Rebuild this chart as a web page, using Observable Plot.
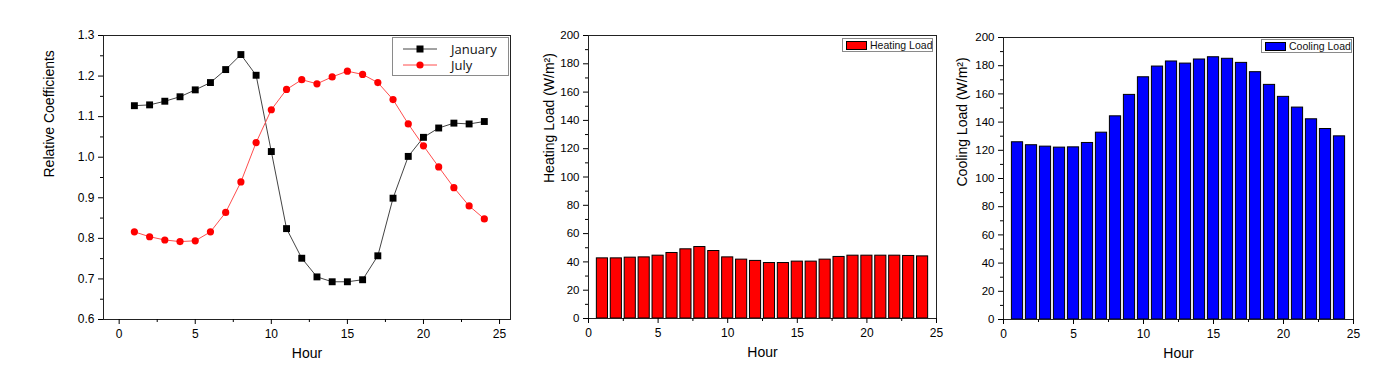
<!DOCTYPE html>
<html><head><meta charset="utf-8">
<script src="https://cdn.jsdelivr.net/npm/d3@7"></script>
<script src="https://cdn.jsdelivr.net/npm/@observablehq/plot@0.6"></script>
<style>
body{margin:0;background:#fff;width:1388px;height:370px;position:relative;overflow:hidden;font-family:"Liberation Sans",Arial,sans-serif}
.panel{position:absolute;top:0}
.legend{position:absolute;background:#fff;border:1px solid #8a8a8a;box-sizing:border-box;white-space:nowrap}
.lrow{position:absolute;left:0;display:flex;align-items:center;font-family:"Open Sans","Noto Sans",sans-serif;font-size:13px;color:#111;white-space:nowrap}
.blegend{display:flex;align-items:center;font-family:"Liberation Sans",Arial,sans-serif;font-size:10.5px;color:#111;white-space:nowrap}
.sw{flex:none;width:21px;height:9px;border:1px solid #000;margin:0 3px 0 3px;box-sizing:border-box}
</style></head><body>
<div id="p1" class="panel" style="left:0"></div>
<div id="p2" class="panel" style="left:520px"></div>
<div id="p3" class="panel" style="left:950px"></div>

<div class="legend" style="left:392px;top:37px;width:117px;height:39px">
  <div class="lrow" style="top:2px;height:17px">
    <svg width="48" height="12" style="margin-left:10px;flex:none"><line x1="0" y1="6" x2="34" y2="6" stroke="#444" stroke-width="1"/><rect x="13.5" y="2.5" width="7" height="7" fill="#000"/></svg><span>January</span>
  </div>
  <div class="lrow" style="top:18px;height:17px">
    <svg width="48" height="12" style="margin-left:10px;flex:none"><line x1="0" y1="6" x2="34" y2="6" stroke="#ff4d4d" stroke-width="1"/><circle cx="17" cy="6" r="3.6" fill="#ff0000"/></svg><span>July</span>
  </div>
</div>
<div class="legend blegend" style="left:842px;top:38px;width:91px;height:14px"><div class="sw" style="background:#ff0000"></div><span>Heating Load</span></div>
<div class="legend blegend" style="left:1261px;top:39px;width:91px;height:14px"><div class="sw" style="background:#0000ff"></div><span>Cooling Load</span></div>

<script>
const hours = [1,2,3,4,5,6,7,8,9,10,11,12,13,14,15,16,17,18,19,20,21,22,23,24];
const january = [1.127,1.129,1.138,1.149,1.166,1.184,1.216,1.253,1.202,1.014,0.824,0.751,0.705,0.693,0.693,0.698,0.757,0.899,1.002,1.049,1.072,1.084,1.082,1.088];
const july = [0.816,0.804,0.796,0.792,0.794,0.816,0.864,0.939,1.036,1.117,1.167,1.191,1.181,1.198,1.212,1.204,1.184,1.142,1.082,1.028,0.976,0.925,0.880,0.848];
const heatingLoad = [42.5,42.5,43.0,43.2,44.4,46.3,48.9,50.5,47.7,43.2,41.6,40.7,39.2,39.2,40.2,40.2,41.6,43.5,44.4,44.4,44.4,44.4,44.2,43.9];
const coolingLoad = [125.7,123.6,122.6,121.9,122.1,125.2,132.5,144.1,159.3,171.8,179.4,183.0,181.5,184.4,186.0,184.9,182.0,175.4,166.4,157.9,150.3,142.0,135.1,129.9];
const seriesNames = ["January","July"];
const xTicks = [0,5,10,15,20,25];
const xMinorTicks = [2.5,7.5,12.5,17.5,22.5];
const coefTicks = [0.6,0.7,0.8,0.9,1.0,1.1,1.2,1.3];
const coefMinorTicks = [0.65,0.75,0.85,0.95,1.05,1.15,1.25];
const loadTicks = [0,20,40,60,80,100,120,140,160,180,200];
const loadMinorTicks = [10,30,50,70,90,110,130,150,170,190];
const xLabel = "Hour";
const coefLabel = "Relative Coefficients";
const heatLabel = "Heating Load (W/m²)";
const coolLabel = "Cooling Load (W/m²)";

const janData = hours.map((h,i)=>({hour:h, value:january[i]}));
const julData = hours.map((h,i)=>({hour:h, value:july[i]}));
const heatData = hours.map((h,i)=>({hour:h, value:heatingLoad[i]}));
const coolData = hours.map((h,i)=>({hour:h, value:coolingLoad[i]}));

const noText = () => "";
function xAxes(){
  return [
    Plot.axisX({ticks: xTicks, tickSize: 5, tickPadding: 5, tickFormat: d3.format("d"), label: null, fontSize: 12}),
    Plot.axisX({ticks: xMinorTicks, tickSize: 3, tickFormat: noText, label: null}),
    Plot.text([xLabel], {frameAnchor: "bottom", dy: 38, fontSize: 14, fill: "#000"})
  ];
}

const style = {fontFamily: "'Liberation Sans', Arial, sans-serif", fontSize: "12px", color: "#000", background: "#fff", overflow: "visible"};

const p1 = Plot.plot({
  width: 520, height: 370,
  marginLeft: 103, marginRight: 10, marginTop: 35, marginBottom: 51,
  style,
  x: {domain: [-1.03, 25.72]},
  y: {domain: [0.6, 1.3]},
  marks: [
    Plot.frame({stroke: "#222"}),
    Plot.axisY({ticks: coefTicks, tickSize: 5, tickPadding: 4, tickFormat: d3.format(".1f"), label: null, fontSize: 12}),
    Plot.axisY({ticks: coefMinorTicks, tickSize: 3, tickFormat: noText, label: null}),
    ...xAxes(),
    Plot.text([coefLabel], {frameAnchor: "left", rotate: -90, dx: -54, fontSize: 14, fill: "#000"}),
    Plot.line(janData, {x: "hour", y: "value", stroke: "#444", strokeWidth: 1}),
    Plot.line(julData, {x: "hour", y: "value", stroke: "#ff4d4d", strokeWidth: 1}),
    Plot.dot(janData, {x: "hour", y: "value", symbol: "square", fill: "#000", r: 3.9}),
    Plot.dot(julData, {x: "hour", y: "value", symbol: "circle", fill: "#ff0000", r: 3.6})
  ]
});
document.getElementById("p1").append(p1);

function loadPlot(data, fill, label, opts){
  return Plot.plot({
    width: opts.width, height: 370,
    marginLeft: opts.ml, marginRight: opts.mr, marginTop: opts.mt, marginBottom: opts.mb,
    style,
    x: {domain: [0, 25]},
    y: {domain: [0, 200]},
    marks: [
      Plot.rectY(data, {x1: d => d.hour - 0.4, x2: d => d.hour + 0.4, y: "value", fill, stroke: "#000", strokeWidth: 1}),
      Plot.frame({stroke: "#222"}),
      Plot.axisY({ticks: loadTicks, tickSize: 5, tickPadding: 4, tickFormat: d3.format("d"), label: null, fontSize: 11.5}),
      Plot.axisY({ticks: loadMinorTicks, tickSize: 3, tickFormat: noText, label: null}),
      ...xAxes(),
      Plot.text([label], {frameAnchor: "left", rotate: -90, dx: opts.ldx, dy: opts.ldy, fontSize: 14, fill: "#000"})
    ]
  });
}
document.getElementById("p2").append(loadPlot(heatData, "#ff0000", heatLabel, {width: 430, ml: 68, mr: 14, mt: 35, mb: 52, ldx: -39, ldy: 6}));
document.getElementById("p3").append(loadPlot(coolData, "#0000ff", coolLabel, {width: 438, ml: 53, mr: 35, mt: 37, mb: 51, ldx: -41, ldy: 8}));
</script>
</body></html>
